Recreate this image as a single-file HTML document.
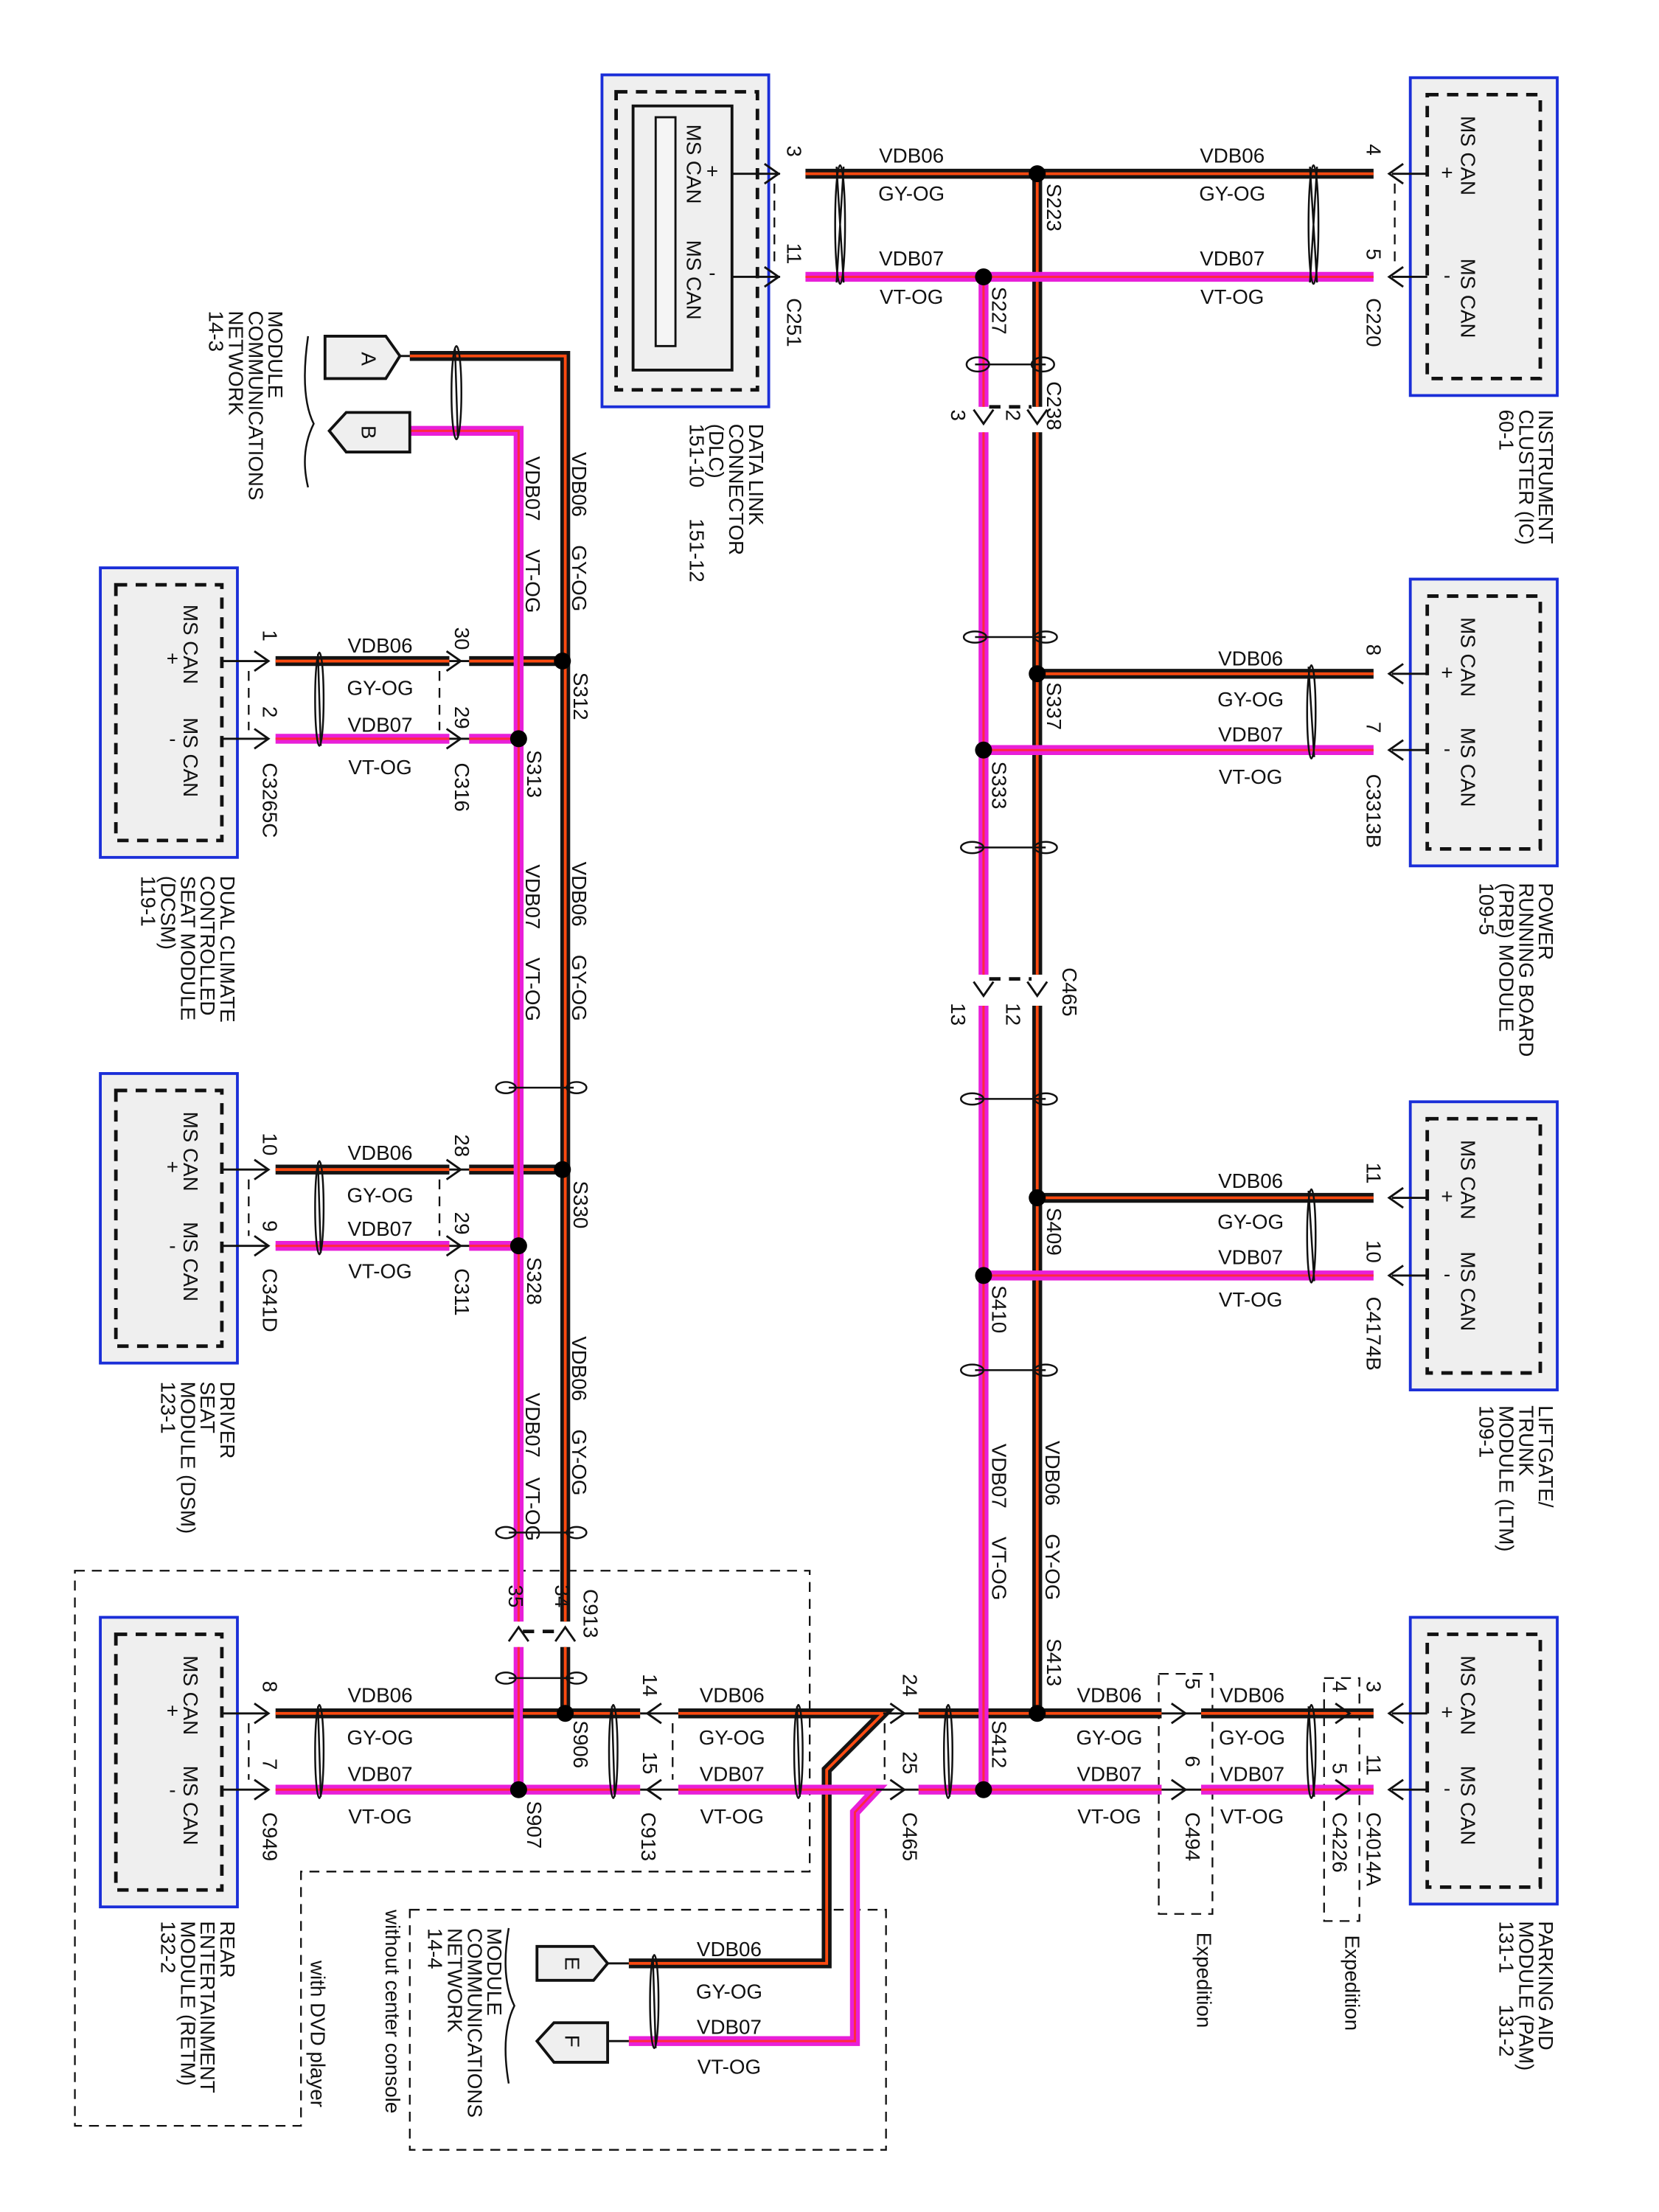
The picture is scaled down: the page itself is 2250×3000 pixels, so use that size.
<!DOCTYPE html>
<html><head><meta charset="utf-8"><style>
html,body{margin:0;padding:0;background:#fff}
svg{display:block}
text{font-family:"Liberation Sans",sans-serif;font-size:14.5px;fill:#111}
.bk{fill:none;stroke:#141414;stroke-width:7}
.bo{fill:none;stroke:#ff4a10;stroke-width:2}
.mg{fill:none;stroke:#e81fd8;stroke-width:7}
.mo{fill:none;stroke:#ff2a40;stroke-width:1.6}
.th{fill:none;stroke:#111;stroke-width:1.5}
.ds{fill:none;stroke:#111;stroke-width:1.2;stroke-dasharray:7 5}
.dsb{fill:none;stroke:#111;stroke-width:2.5;stroke-dasharray:8 6}
.box{fill:#efefef;stroke:#1a2ed8;stroke-width:2}
.tw{fill:none;stroke:#111;stroke-width:1.3}
</style></head><body>
<svg width="2250" height="3000" viewBox="0 0 1174 1566" preserveAspectRatio="none" xmlns="http://www.w3.org/2000/svg">
<rect width="1174" height="1566" fill="#fff"/>

<rect class="box" x="426" y="53" width="118" height="235"/>
<rect class="dsb" x="436" y="65" width="100" height="211"/>
<rect x="448" y="75" width="70" height="187" fill="none" stroke="#111" stroke-width="2"/>
<rect x="464" y="83" width="14" height="162" fill="#f5f5f5" stroke="#111" stroke-width="1.5"/>

<rect class="box" x="998" y="55" width="104" height="225"/>
<rect class="dsb" x="1010" y="67" width="80" height="201"/>
<rect class="box" x="998" y="410" width="104" height="203"/>
<rect class="dsb" x="1010" y="422" width="80" height="179"/>
<rect class="box" x="998" y="780" width="104" height="204"/>
<rect class="dsb" x="1010" y="792" width="80" height="180"/>
<rect class="box" x="998" y="1145" width="104" height="203"/>
<rect class="dsb" x="1010" y="1157" width="80" height="179"/>

<rect class="box" x="71" y="402" width="97" height="205"/>
<rect class="dsb" x="82" y="414" width="75" height="181"/>
<rect class="box" x="71" y="760" width="97" height="205"/>
<rect class="dsb" x="82" y="772" width="75" height="181"/>
<rect class="box" x="71" y="1145" width="97" height="205"/>
<rect class="dsb" x="82" y="1157" width="75" height="181"/>

<path class="ds" d="M53 1112 H573 V1325 H213 V1505 H53 Z"/>
<path class="ds" d="M290 1352 H627 V1522 H290 Z"/>
<rect class="ds" x="820" y="1185" width="38" height="170"/>
<rect class="ds" x="937" y="1188" width="25" height="172"/>
<path class="ds" d="M548 130 V190 M987 130 V190 M176 475 V517 M311 475 V517 M176 835 V875 M311 835 V875 M176 1220 V1260 M476 1220 V1260 M626 1220 V1260"/>
<path class="dsb" d="M700 288 H730 M700 693 H730 M370 1155 H396"/>

<g class="bk">
<path d="M570 123 H972"/>
<path d="M734 123 V288 M734 306 V690 M734 712 V1213"/>
<path d="M734 477 H972 M734 848 H972 M650 1213 H822 M850 1213 H972"/>
<path d="M480 1213 H625 L585 1253 V1390 H445"/>
<path d="M195 1213 H453"/>
<path d="M290 252 H400 V1148 M400 1166 V1213"/>
<path d="M195 468 H318 M332 468 H398 M195 828 H318 M332 828 H398"/>
</g>
<g class="bo">
<path d="M570 123 H972"/>
<path d="M734 123 V288 M734 306 V690 M734 712 V1213"/>
<path d="M734 477 H972 M734 848 H972 M650 1213 H822 M850 1213 H972"/>
<path d="M480 1213 H625 L585 1253 V1390 H445"/>
<path d="M195 1213 H453"/>
<path d="M290 252 H400 V1148 M400 1166 V1213"/>
<path d="M195 468 H318 M332 468 H398 M195 828 H318 M332 828 H398"/>
</g>
<g class="mg">
<path d="M570 196 H972"/>
<path d="M696 196 V288 M696 306 V690 M696 712 V1267"/>
<path d="M696 531 H972 M696 903 H972 M650 1267 H822 M850 1267 H972"/>
<path d="M480 1267 H620 L605 1283 V1445 H445"/>
<path d="M195 1267 H453"/>
<path d="M290 305 H367 V1148 M367 1166 V1267"/>
<path d="M195 523 H318 M332 523 H367 M195 882 H318 M332 882 H367"/>
</g>
<g class="mo">
<path d="M570 196 H972"/>
<path d="M696 196 V288 M696 306 V690 M696 712 V1267"/>
<path d="M696 531 H972 M696 903 H972 M650 1267 H822 M850 1267 H972"/>
<path d="M480 1267 H620 L605 1283 V1445 H445"/>
<path d="M195 1267 H453"/>
<path d="M290 305 H367 V1148 M367 1166 V1267"/>
<path d="M195 523 H318 M332 523 H367 M195 882 H318 M332 882 H367"/>
</g>
<path class="bk" d="M370 1213 H398"/><path class="bo" d="M370 1213 H398"/>

<path class="th" d="M518 123 H552 M518 196 H552 M985 123 H1010 M985 196 H1010 M985 477 H1010 M985 531 H1010 M985 848 H1010 M985 903 H1010 M985 1213 H1010 M985 1267 H1010
M157 468 H190 M157 523 H190 M157 828 H190 M157 882 H190 M157 1213 H190 M157 1267 H190 M318 468 H332 M318 523 H332 M318 828 H332 M318 882 H332
M453 1213 H480 M453 1267 H480 M625 1213 H650 M620 1267 H650 M822 1213 H850 M822 1267 H850 M430 1390 H445 M430 1445 H445 M283 252 H290 M283 305 H290"/>

<g class="th" stroke-width="2">
<path d="M541 116 L551 123 L541 130 M541 189 L551 196 L541 203"/>
<path d="M993 116 L983 123 L993 130 M993 189 L983 196 L993 203"/>
<path d="M993 470 L983 477 L993 484 M993 524 L983 531 L993 538 M993 841 L983 848 L993 855 M993 896 L983 903 L993 910 M993 1206 L983 1213 L993 1220 M993 1260 L983 1267 L993 1274"/>
<path d="M180 461 L190 468 L180 475 M180 516 L190 523 L180 530 M180 821 L190 828 L180 835 M180 875 L190 882 L180 889 M180 1206 L190 1213 L180 1220 M180 1260 L190 1267 L180 1274"/>
<path d="M316 461 L326 468 L316 475 M316 516 L326 523 L316 530 M316 821 L326 828 L316 835 M316 875 L326 882 L316 889"/>
<path d="M468 1206 L458 1213 L468 1220 M468 1260 L458 1267 L468 1274"/>
<path d="M630 1206 L640 1213 L630 1220 M630 1260 L640 1267 L630 1274"/>
<path d="M829 1206 L839 1213 L829 1220 M829 1260 L839 1267 L829 1274 M945 1206 L955 1213 L945 1220 M945 1260 L955 1267 L945 1274"/>
<path d="M727 290 L734 300 L741 290 M689 290 L696 300 L703 290 M727 695 L734 705 L741 695 M689 695 L696 705 L703 695"/>
<path d="M393 1162 L400 1152 L407 1162 M360 1162 L367 1152 L374 1162"/>
</g>

<g fill="#000">
<circle cx="734" cy="123" r="6"/><circle cx="696" cy="196" r="6"/>
<circle cx="734" cy="477" r="6"/><circle cx="696" cy="531" r="6"/>
<circle cx="734" cy="848" r="6"/><circle cx="696" cy="903" r="6"/>
<circle cx="734" cy="1213" r="6"/><circle cx="696" cy="1267" r="6"/>
<circle cx="398" cy="468" r="6"/><circle cx="367" cy="523" r="6"/>
<circle cx="398" cy="828" r="6"/><circle cx="367" cy="882" r="6"/>
<circle cx="400" cy="1213" r="6"/><circle cx="367" cy="1267" r="6"/>
</g>

<g class="tw">
<path d="M592 118 L597 200 M597 118 L592 200"/><ellipse cx="594.5" cy="159" rx="3.5" ry="42"/>
<path d="M927 118 L932 200 M932 118 L927 200"/><ellipse cx="929.5" cy="159" rx="3.5" ry="42"/>
<path d="M926 472 L930 536"/><ellipse cx="928" cy="504" rx="3" ry="33"/>
<path d="M926 843 L930 907"/><ellipse cx="928" cy="875" rx="3" ry="33"/>
<path d="M926 1208 L930 1272"/><ellipse cx="928" cy="1240" rx="3" ry="33"/>
<path d="M670 1208 L672 1272"/><ellipse cx="671" cy="1240" rx="3" ry="33"/>
<path d="M564 1208 L566 1272"/><ellipse cx="565" cy="1240" rx="3" ry="33"/>
<path d="M433 1208 L435 1272"/><ellipse cx="434" cy="1240" rx="3" ry="33"/>
<path d="M225 1208 L227 1272"/><ellipse cx="226" cy="1240" rx="3" ry="33"/>
<path d="M225 463 L227 528"/><ellipse cx="226" cy="495" rx="3" ry="33"/>
<path d="M225 823 L227 887"/><ellipse cx="226" cy="855" rx="3" ry="33"/>
<path d="M322 247 L324 310"/><ellipse cx="323" cy="278" rx="3.5" ry="33"/>
<path d="M462 1385 L464 1450"/><ellipse cx="463" cy="1417" rx="3" ry="33"/>
<path d="M690 258 H740"/><ellipse cx="692" cy="258" rx="8" ry="5"/><ellipse cx="738" cy="258" rx="8" ry="5"/>
<path d="M690 451 H740"/><ellipse cx="690" cy="451" rx="8" ry="4"/><ellipse cx="740" cy="451" rx="8" ry="4"/>
<path d="M690 600 H740"/><ellipse cx="688" cy="600" rx="8" ry="4"/><ellipse cx="740" cy="600" rx="8" ry="4"/>
<path d="M690 778 H740"/><ellipse cx="688" cy="778" rx="8" ry="4"/><ellipse cx="740" cy="778" rx="8" ry="4"/>
<path d="M690 970 H740"/><ellipse cx="688" cy="970" rx="8" ry="4"/><ellipse cx="740" cy="970" rx="8" ry="4"/>
<path d="M360 770 H406"/><ellipse cx="358" cy="770" rx="7" ry="4"/><ellipse cx="408" cy="770" rx="7" ry="4"/>
<path d="M360 1085 H406"/><ellipse cx="358" cy="1085" rx="7" ry="4"/><ellipse cx="408" cy="1085" rx="7" ry="4"/>
<path d="M360 1188 H406"/><ellipse cx="358" cy="1188" rx="7" ry="4"/><ellipse cx="408" cy="1188" rx="7" ry="4"/>
</g>

<g fill="#efefef" stroke="#111" stroke-width="2">
<path d="M230 238 H273 L283 252 L273 268 H230 Z"/>
<path d="M290 292 H245 L233 305 L245 320 H290 Z"/>
<path d="M380 1378 H420 L430 1390 L420 1402 H380 Z"/>
<path d="M430 1432 H392 L380 1445 L392 1460 H430 Z"/>
</g>
<g font-size="14">
<text transform="translate(256,254) rotate(90)" text-anchor="middle">A</text>
<text transform="translate(256,306) rotate(90)" text-anchor="middle">B</text>
<text transform="translate(400,1390) rotate(90)" text-anchor="middle">E</text>
<text transform="translate(400,1445) rotate(90)" text-anchor="middle">F</text>
</g>
<path class="tw" d="M218 238 Q212 280 222 300 Q212 320 218 345"/>
<path class="tw" d="M360 1365 Q354 1400 364 1420 Q354 1440 360 1475"/>

<g text-anchor="middle">
<text x="645" y="115">VDB06</text><text x="645" y="142">GY-OG</text>
<text x="645" y="188">VDB07</text><text x="645" y="215">VT-OG</text>
<text x="872" y="115">VDB06</text><text x="872" y="142">GY-OG</text>
<text x="872" y="188">VDB07</text><text x="872" y="215">VT-OG</text>
<text x="885" y="471">VDB06</text><text x="885" y="500">GY-OG</text>
<text x="885" y="525">VDB07</text><text x="885" y="555">VT-OG</text>
<text x="885" y="841">VDB06</text><text x="885" y="870">GY-OG</text>
<text x="885" y="895">VDB07</text><text x="885" y="925">VT-OG</text>
<text x="785" y="1205">VDB06</text><text x="785" y="1235">GY-OG</text>
<text x="785" y="1261">VDB07</text><text x="785" y="1291">VT-OG</text>
<text x="886" y="1205">VDB06</text><text x="886" y="1235">GY-OG</text>
<text x="886" y="1261">VDB07</text><text x="886" y="1291">VT-OG</text>
<text x="518" y="1205">VDB06</text><text x="518" y="1235">GY-OG</text>
<text x="518" y="1261">VDB07</text><text x="518" y="1291">VT-OG</text>
<text x="269" y="1205">VDB06</text><text x="269" y="1235">GY-OG</text>
<text x="269" y="1261">VDB07</text><text x="269" y="1291">VT-OG</text>
<text x="269" y="462">VDB06</text><text x="269" y="492">GY-OG</text>
<text x="269" y="518">VDB07</text><text x="269" y="548">VT-OG</text>
<text x="269" y="821">VDB06</text><text x="269" y="851">GY-OG</text>
<text x="269" y="875">VDB07</text><text x="269" y="905">VT-OG</text>
<text x="516" y="1385">VDB06</text><text x="516" y="1415">GY-OG</text>
<text x="516" y="1440">VDB07</text><text x="516" y="1468">VT-OG</text>
</g>

<g>
<text transform="translate(405,320) rotate(90)">VDB06<tspan dx="20">GY-OG</tspan></text>
<text transform="translate(372,323) rotate(90)">VDB07<tspan dx="20">VT-OG</tspan></text>
<text transform="translate(405,610) rotate(90)">VDB06<tspan dx="20">GY-OG</tspan></text>
<text transform="translate(372,612) rotate(90)">VDB07<tspan dx="20">VT-OG</tspan></text>
<text transform="translate(405,946) rotate(90)">VDB06<tspan dx="20">GY-OG</tspan></text>
<text transform="translate(372,986) rotate(90)">VDB07<tspan dx="14">VT-OG</tspan></text>
<text transform="translate(740,1020) rotate(90)">VDB06<tspan dx="20">GY-OG</tspan></text>
<text transform="translate(702,1022) rotate(90)">VDB07<tspan dx="20">VT-OG</tspan></text>
</g>

<g>
<text transform="translate(741,130) rotate(90)">S223</text>
<text transform="translate(702,203) rotate(90)">S227</text>
<text transform="translate(741,270) rotate(90)">C238</text>
<text transform="translate(741,483) rotate(90)">S337</text>
<text transform="translate(702,539) rotate(90)">S333</text>
<text transform="translate(752,685) rotate(90)">C465</text>
<text transform="translate(741,855) rotate(90)">S409</text>
<text transform="translate(702,910) rotate(90)">S410</text>
<text transform="translate(741,1160) rotate(90)">S413</text>
<text transform="translate(702,1218) rotate(90)">S412</text>
<text transform="translate(406,476) rotate(90)">S312</text>
<text transform="translate(373,531) rotate(90)">S313</text>
<text transform="translate(406,836) rotate(90)">S330</text>
<text transform="translate(373,890) rotate(90)">S328</text>
<text transform="translate(406,1218) rotate(90)">S906</text>
<text transform="translate(373,1275) rotate(90)">S907</text>
<text transform="translate(413,1125) rotate(90)">C913</text>
<text transform="translate(557,211) rotate(90)">C251</text>
<text transform="translate(967,211) rotate(90)">C220</text>
<text transform="translate(967,548) rotate(90)">C3313B</text>
<text transform="translate(967,918) rotate(90)">C4174B</text>
<text transform="translate(967,1283) rotate(90)">C4014A</text>
<text transform="translate(943,1283) rotate(90)">C4226</text>
<text transform="translate(839,1283) rotate(90)">C494</text>
<text transform="translate(639,1283) rotate(90)">C465</text>
<text transform="translate(454,1283) rotate(90)">C913</text>
<text transform="translate(186,1283) rotate(90)">C949</text>
<text transform="translate(186,540) rotate(90)">C3265C</text>
<text transform="translate(322,540) rotate(90)">C316</text>
<text transform="translate(186,898) rotate(90)">C341D</text>
<text transform="translate(322,898) rotate(90)">C311</text>
<text transform="translate(847,1368) rotate(90)" font-size="13">Expedition</text>
<text transform="translate(952,1370) rotate(90)" font-size="13">Expedition</text>
</g>

<g font-size="14">
<text transform="translate(557,103) rotate(90)">3</text>
<text transform="translate(557,172) rotate(90)">11</text>
<text transform="translate(967,102) rotate(90)">4</text>
<text transform="translate(967,176) rotate(90)">5</text>
<text transform="translate(967,456) rotate(90)">8</text>
<text transform="translate(967,511) rotate(90)">7</text>
<text transform="translate(967,823) rotate(90)">11</text>
<text transform="translate(967,878) rotate(90)">10</text>
<text transform="translate(967,1190) rotate(90)">3</text>
<text transform="translate(967,1242) rotate(90)">11</text>
<text transform="translate(943,1190) rotate(90)">4</text>
<text transform="translate(943,1248) rotate(90)">5</text>
<text transform="translate(839,1188) rotate(90)">5</text>
<text transform="translate(839,1243) rotate(90)">6</text>
<text transform="translate(639,1185) rotate(90)">24</text>
<text transform="translate(639,1240) rotate(90)">25</text>
<text transform="translate(455,1185) rotate(90)">14</text>
<text transform="translate(455,1240) rotate(90)">15</text>
<text transform="translate(186,1190) rotate(90)">8</text>
<text transform="translate(186,1245) rotate(90)">7</text>
<text transform="translate(186,446) rotate(90)">1</text>
<text transform="translate(186,500) rotate(90)">2</text>
<text transform="translate(322,444) rotate(90)">30</text>
<text transform="translate(322,500) rotate(90)">29</text>
<text transform="translate(186,802) rotate(90)">10</text>
<text transform="translate(186,864) rotate(90)">9</text>
<text transform="translate(322,803) rotate(90)">28</text>
<text transform="translate(322,858) rotate(90)">29</text>
<text transform="translate(712,290) rotate(90)">2</text>
<text transform="translate(673,290) rotate(90)">3</text>
<text transform="translate(712,710) rotate(90)">12</text>
<text transform="translate(673,710) rotate(90)">13</text>
<text transform="translate(393,1122) rotate(90)">34</text>
<text transform="translate(360,1122) rotate(90)">35</text>
</g>

<g font-size="14">
<text transform="translate(486,88) rotate(90)">MS CAN</text>
<text transform="translate(486,170) rotate(90)">MS CAN</text>
<text x="504" y="126" text-anchor="middle">+</text><text x="504" y="198" text-anchor="middle">-</text>
<text transform="translate(1034,82) rotate(90)">MS CAN</text><text transform="translate(1034,183) rotate(90)">MS CAN</text>
<text x="1024" y="127" text-anchor="middle">+</text><text x="1024" y="200" text-anchor="middle">-</text>
<text transform="translate(1034,437) rotate(90)">MS CAN</text><text transform="translate(1034,515) rotate(90)">MS CAN</text>
<text x="1024" y="481" text-anchor="middle">+</text><text x="1024" y="535" text-anchor="middle">-</text>
<text transform="translate(1034,807) rotate(90)">MS CAN</text><text transform="translate(1034,886) rotate(90)">MS CAN</text>
<text x="1024" y="852" text-anchor="middle">+</text><text x="1024" y="907" text-anchor="middle">-</text>
<text transform="translate(1034,1172) rotate(90)">MS CAN</text><text transform="translate(1034,1250) rotate(90)">MS CAN</text>
<text x="1024" y="1217" text-anchor="middle">+</text><text x="1024" y="1271" text-anchor="middle">-</text>
<text transform="translate(130,428) rotate(90)">MS CAN</text><text transform="translate(130,508) rotate(90)">MS CAN</text>
<text x="122" y="471" text-anchor="middle">+</text><text x="122" y="528" text-anchor="middle">-</text>
<text transform="translate(130,787) rotate(90)">MS CAN</text><text transform="translate(130,865) rotate(90)">MS CAN</text>
<text x="122" y="831" text-anchor="middle">+</text><text x="122" y="887" text-anchor="middle">-</text>
<text transform="translate(130,1172) rotate(90)">MS CAN</text><text transform="translate(130,1250) rotate(90)">MS CAN</text>
<text x="122" y="1216" text-anchor="middle">+</text><text x="122" y="1272" text-anchor="middle">-</text>
</g>

<g font-size="14">
<text transform="translate(1089,290) rotate(90)">INSTRUMENT</text>
<text transform="translate(1075,290) rotate(90)">CLUSTER (IC)</text>
<text transform="translate(1061,290) rotate(90)">60-1</text>
<text transform="translate(530,300) rotate(90)">DATA LINK</text>
<text transform="translate(516,300) rotate(90)">CONNECTOR</text>
<text transform="translate(502,300) rotate(90)">(DLC)</text>
<text transform="translate(488,300) rotate(90)">151-10<tspan dx="22">151-12</tspan></text>
<text transform="translate(1089,625) rotate(90)">POWER</text>
<text transform="translate(1075,625) rotate(90)">RUNNING BOARD</text>
<text transform="translate(1061,625) rotate(90)">(PRB) MODULE</text>
<text transform="translate(1047,625) rotate(90)">109-5</text>
<text transform="translate(1089,995) rotate(90)">LIFTGATE/</text>
<text transform="translate(1075,995) rotate(90)">TRUNK</text>
<text transform="translate(1061,995) rotate(90)">MODULE (LTM)</text>
<text transform="translate(1047,995) rotate(90)">109-1</text>
<text transform="translate(1089,1360) rotate(90)">PARKING AID</text>
<text transform="translate(1075,1360) rotate(90)">MODULE (PAM)</text>
<text transform="translate(1061,1360) rotate(90)">131-1<tspan dx="22">131-2</tspan></text>
<text transform="translate(156,620) rotate(90)">DUAL CLIMATE</text>
<text transform="translate(142,620) rotate(90)">CONTROLLED</text>
<text transform="translate(128,620) rotate(90)">SEAT MODULE</text>
<text transform="translate(114,620) rotate(90)">(DCSM)</text>
<text transform="translate(100,620) rotate(90)">119-1</text>
<text transform="translate(156,978) rotate(90)">DRIVER</text>
<text transform="translate(142,978) rotate(90)">SEAT</text>
<text transform="translate(128,978) rotate(90)">MODULE (DSM)</text>
<text transform="translate(114,978) rotate(90)">123-1</text>
<text transform="translate(156,1360) rotate(90)">REAR</text>
<text transform="translate(142,1360) rotate(90)">ENTERTAINMENT</text>
<text transform="translate(128,1360) rotate(90)">MODULE (RETM)</text>
<text transform="translate(114,1360) rotate(90)">132-2</text>
<text transform="translate(190,220) rotate(90)">MODULE</text>
<text transform="translate(176,220) rotate(90)">COMMUNICATIONS</text>
<text transform="translate(162,220) rotate(90)">NETWORK</text>
<text transform="translate(148,220) rotate(90)">14-3</text>
<text transform="translate(345,1365) rotate(90)">MODULE</text>
<text transform="translate(331,1365) rotate(90)">COMMUNICATIONS</text>
<text transform="translate(317,1365) rotate(90)">NETWORK</text>
<text transform="translate(303,1365) rotate(90)">14-4</text>
<text transform="translate(273,1352) rotate(90)" font-size="13">without center console</text>
<text transform="translate(220,1388) rotate(90)" font-size="13">with DVD player</text>
</g>
</svg>
</body></html>
